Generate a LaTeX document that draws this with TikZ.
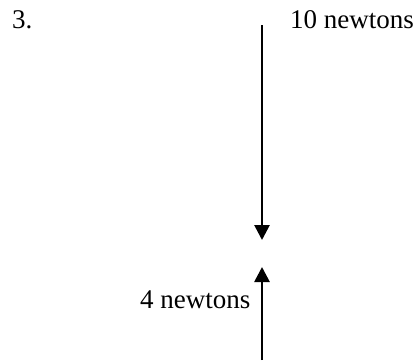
\documentclass[tikz,border=0pt]{standalone}
\usepackage{fontspec}
\setmainfont{Liberation Serif}
\usetikzlibrary{arrows.meta}

\begin{document}
\begin{tikzpicture}[x=1pt,y=1pt]
\useasboundingbox (0,0) rectangle (414,360);
\begin{scope}[every node/.style={anchor=base west,inner sep=0pt,font=\fontsize{27}{31}\selectfont}]
    \node (num)  at (12,332)  {3.};
    \node (ten)  at (290,332) {10 newtons};
    \node (four) at (140,52)  {4 newtons};
\end{scope}

\coordinate (topstart) at (262,335);
\coordinate (topend)   at (262,120);
\coordinate (botstart) at (262,0);
\coordinate (botend)   at (262,93);

\begin{scope}[every path/.style={line width=2.7pt,-{Triangle[length=15pt,width=15pt]}}]
    \draw (topstart) -- (topend);
    \draw (botstart) -- (botend);
\end{scope}
\end{tikzpicture}
\end{document}
